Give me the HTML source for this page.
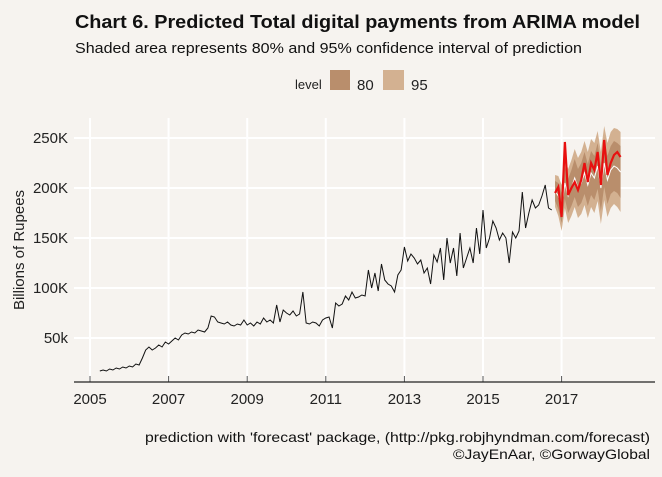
<!DOCTYPE html>
<html><head><meta charset="utf-8">
<style>
body{margin:0;background:#f6f3ef;}
svg{display:block;font-family:"Liberation Sans",Arial,sans-serif;}
</style></head>
<body>
<svg id="c" width="662" height="477" viewBox="0 0 662 477">
<rect width="662" height="477" fill="#f6f3ef"/>
<text x="75" y="28" font-size="18" font-weight="bold" fill="#111" textLength="565" lengthAdjust="spacingAndGlyphs">Chart 6. Predicted Total digital payments from ARIMA model</text>
<text x="75" y="53" font-size="15" fill="#111" textLength="507" lengthAdjust="spacingAndGlyphs">Shaded area represents 80% and 95% confidence interval of prediction</text>
<g>
<text x="295" y="89" font-size="13" fill="#222">level</text>
<rect x="330" y="70" width="20" height="20" fill="#b98e6c"/>
<text x="357" y="90" font-size="15" fill="#222">80</text>
<rect x="383" y="70" width="21" height="20" fill="#d3b191"/>
<text x="411" y="90" font-size="15" fill="#222">95</text>
</g>
<g id="grid"></g>
<g id="bands"></g>
<g id="lines"></g>
<g id="axes"></g>
<text transform="translate(24,250) rotate(-90)" text-anchor="middle" font-size="15" fill="#222">Billions of Rupees</text>
<text x="650" y="442" text-anchor="end" font-size="14" fill="#111" textLength="505" lengthAdjust="spacingAndGlyphs">prediction with 'forecast' package, (http://pkg.robjhyndman.com/forecast)</text>
<text x="650" y="459" text-anchor="end" font-size="14" fill="#111" textLength="197" lengthAdjust="spacingAndGlyphs">©JayEnAar, ©GorwayGlobal</text>
</svg>
<script>
const xTicks=[2005,2007,2009,2011,2013,2015,2017];
const yTicks=[50,100,150,200,250];
const yTickLabels=["50k","100K","150K","200K","250K"];
const histStart=2005+3/12;
const history=[17,18,17,19,18,20,19,21,20,
22,21,24,23,30,38,41,38,40,43,41,46,
44,47,50,48,53,55,54,56,55,58,57,56,
60,72,71,66,65,64,66,63,62,64,63,68,
63,65,62,66,64,70,66,68,65,83,66,78,
75,73,77,72,74,96,65,64,66,65,62,68,
70,71,60,85,82,84,92,88,96,90,91,93,
92,118,100,115,97,124,108,104,102,96,113,118,
141,127,134,130,124,128,115,120,104,133,126,140,
108,150,125,140,112,155,120,130,140,125,160,134,
178,140,150,167,160,148,155,150,125,156,150,157,
196,160,175,188,180,183,192,203,180,178];
const fcStart=2016+10/12;
const actual=[195,201,171,246,193,200,206,198,208,225,206,225,218,236,203,248,213,225,233,236,231];
const fcMean=[197,192,180,205,192,200,210,200,205,215,203,215,210,222,200,225,208,218,222,220,216];
const half95=[16,20,23,25,27,28,29,30,31,32,33,34,35,35,36,37,37,38,38,39,40];
const half80=[10,13,15,16,17,18,19,19,20,21,21,22,22,23,23,24,24,24,25,25,26];

const X=y=>90+(y-2005)*39.3;
const Y=v=>388-v*1.0;
const NS="http://www.w3.org/2000/svg";
function mk(tag,attrs,parent){const e=document.createElementNS(NS,tag);for(const k in attrs)e.setAttribute(k,attrs[k]);document.getElementById(parent).appendChild(e);return e;}

yTicks.forEach((t,i)=>{
 const g=mk('line',{x1:74,x2:655,y1:Y(t),y2:Y(t),stroke:'#fff','stroke-width':2},'grid');
 
 
 const l=mk('text',{x:68,y:Y(t)+5,'text-anchor':'end','font-size':15,fill:'#222'},'axes');
 l.textContent=yTickLabels[i];
 
 
});
xTicks.forEach(t=>{
 const g=mk('line',{x1:X(t),x2:X(t),y1:118,y2:382,stroke:'#fff','stroke-width':2},'grid');
 
 
 const tk=mk('line',{x1:X(t),x2:X(t),y1:376,y2:382,stroke:'#555','stroke-width':1},'axes');
 
 
 const l=mk('text',{x:X(t),y:404,'text-anchor':'middle','font-size':15,fill:'#222'},'axes');
 l.textContent=t;
 
 
});
const ax=mk('line',{x1:74,x2:655,y1:382,y2:382,stroke:'#222','stroke-width':1.2},'axes');



function band(h,fill,name){
 const fx=i=>X(fcStart+i/12);
 let up=fcMean.map((m,i)=>fx(i)+','+Y(m+h[i]));
 let dn=fcMean.map((m,i)=>fx(i)+','+Y(m-h[i])).reverse();
 const p=mk('polygon',{points:up.concat(dn).join(' '),fill:fill},'bands');
 
 
}
band(half95,'#d3b191','band-95');
band(half80,'#b98e6c','band-80');

const hp=mk('polyline',{points:history.map((v,i)=>X(histStart+i/12)+','+Y(v)).join(' '),fill:'none',stroke:'#111','stroke-width':1},'lines');


const mp=mk('polyline',{points:fcMean.map((v,i)=>X(fcStart+i/12)+','+Y(v)).join(' '),fill:'none',stroke:'#fff','stroke-width':1},'lines');


const ap=mk('polyline',{points:actual.map((v,i)=>X(fcStart+i/12)+','+Y(v)).join(' '),fill:'none',stroke:'#e81010','stroke-width':2.2},'lines');


</script>
</body></html>
